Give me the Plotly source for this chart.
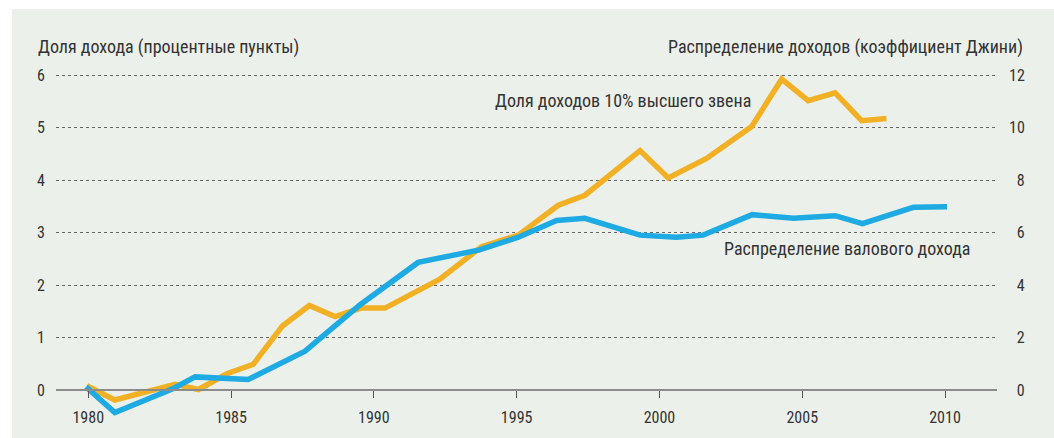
import plotly.graph_objects as go

# ---- data ----
top10_years = [1979.95, 1980.93, 1983.04, 1983.86, 1984.85, 1985.78, 1986.8, 1987.74,
               1988.64, 1989.55, 1990.39, 1992.31, 1993.77, 1995.06, 1996.46, 1997.39,
               1999.32, 2000.31, 2001.65, 2003.23, 2004.28, 2005.21, 2006.15, 2007.08, 2007.95]
top10_share = [0.08, -0.19, 0.11, 0.01, 0.31, 0.49, 1.22, 1.61,
               1.40, 1.56, 1.56, 2.11, 2.73, 2.95, 3.52, 3.71,
               4.56, 4.04, 4.41, 5.02, 5.92, 5.51, 5.66, 5.13, 5.17]

gini_years = [1979.92, 1980.93, 1982.98, 1983.74, 1985.6, 1987.59, 1989.51, 1991.55,
              1993.7, 1995.06, 1996.4, 1997.39, 1999.32, 2000.6, 2001.53, 2003.25,
              2004.69, 2006.15, 2007.11, 2008.89, 2010.07]
gini_change = [0.12, -0.86, 0.06, 0.50, 0.40, 1.48, 3.24, 4.86,
               5.34, 5.82, 6.46, 6.54, 5.90, 5.82, 5.90, 6.68,
               6.54, 6.64, 6.34, 6.96, 6.98]

x_ticks = [1980, 1985, 1990, 1995, 2000, 2005, 2010]
left_ticks = [0, 1, 2, 3, 4, 5, 6]
right_ticks = [0, 2, 4, 6, 8, 10, 12]

left_title = "Доля дохода (процентные пункты)"
right_title = "Распределение доходов (коэффициент Джини)"
top10_label = "Доля доходов 10% высшего звена"
gini_label = "Распределение валового дохода"

# ---- style ----
W, H = 1054, 438
ML, MR, MT, MB = 56, 57, 60, 18
PW, PH = W - ML - MR, H - MT - MB
FONT = "Roboto Condensed, Liberation Sans Narrow, sans-serif"
TXT = "#333333"
PANEL = "#ecf0eb"
ORANGE = "#f2b024"
BLUE = "#1eaae2"

y_range = [-0.5714, 6.2857]
y2_range = [2 * v for v in y_range]
x_range = [1978.87, 2011.82]
axis_pos = (0 - y_range[0]) / (y_range[1] - y_range[0])

fig = go.Figure()
fig.add_trace(go.Scatter(x=gini_years, y=gini_change, yaxis="y2", mode="lines",
                         line=dict(color=BLUE, width=5.5), name=gini_label,
                         showlegend=False))
fig.add_trace(go.Scatter(x=top10_years, y=top10_share, mode="lines",
                         line=dict(color=ORANGE, width=5.5), name=top10_label,
                         showlegend=False))

fig.update_layout(
    width=W, height=H,
    margin=dict(l=ML, r=MR, t=MT, b=MB, pad=0),
    paper_bgcolor=PANEL, plot_bgcolor=PANEL,
    font=dict(family=FONT, size=16, color=TXT),
    xaxis=dict(range=x_range, tickvals=x_ticks, ticktext=[str(t) for t in x_ticks],
               showgrid=False, zeroline=False, showline=True, linecolor="#8c8c8c",
               linewidth=2, ticks="outside", ticklen=7, tickwidth=1, tickcolor="#555555",
               anchor="free", position=axis_pos, tickfont=dict(size=16, color=TXT),
               ticklabelstandoff=6),
    yaxis=dict(range=y_range, tickvals=left_ticks, ticktext=[str(t) for t in left_ticks],
               showgrid=True, gridcolor="#666666", griddash="dot", gridwidth=1,
               zeroline=False, showline=False, ticks="", ticklabelstandoff=10,
               tickfont=dict(size=16, color=TXT)),
    yaxis2=dict(range=y2_range, overlaying="y", side="right", tickvals=right_ticks,
                ticktext=[("\u2007" + str(t)) if t < 10 else str(t) for t in right_ticks],
                showgrid=False, zeroline=False, showline=False, ticks="",
                ticklabelstandoff=11, tickfont=dict(size=16, color=TXT)),
)

# white outer strips (top and left)
fig.add_shape(type="rect", xref="paper", yref="paper", x0=-ML / PW, x1=(12 - ML) / PW,
              y0=-MB / PH, y1=(H - MB) / PH, fillcolor="white", line_width=0, layer="below")
fig.add_shape(type="rect", xref="paper", yref="paper", x0=-ML / PW, x1=(W - ML) / PW,
              y0=(H - MB - 9) / PH, y1=(H - MB) / PH, fillcolor="white", line_width=0,
              layer="below")

fig.add_annotation(text=left_title, xref="paper", yref="paper", x=(36 - ML) / PW,
                   y=(H - MB - 47) / PH, xanchor="left", yanchor="middle", showarrow=False,
                   font=dict(size=18, color=TXT))
fig.add_annotation(text=right_title, xref="paper", yref="paper", x=(1025 - ML) / PW,
                   y=(H - MB - 47) / PH, xanchor="right", yanchor="middle", showarrow=False,
                   font=dict(size=18, color=TXT))
fig.add_annotation(text=top10_label, xref="x", yref="y", x=1994.17, y=5.52,
                   xanchor="left", yanchor="middle", showarrow=False,
                   font=dict(size=18, color=TXT))
fig.add_annotation(text=gini_label, xref="x", yref="y", x=2010.93, y=2.70,
                   xanchor="right", yanchor="middle", showarrow=False,
                   font=dict(size=18, color=TXT))

fig.write_html("out.html",
               config={"displayModeBar": False},
               post_script="document.body.style.margin='0px';"
                           "document.body.style.overflow='hidden';")
